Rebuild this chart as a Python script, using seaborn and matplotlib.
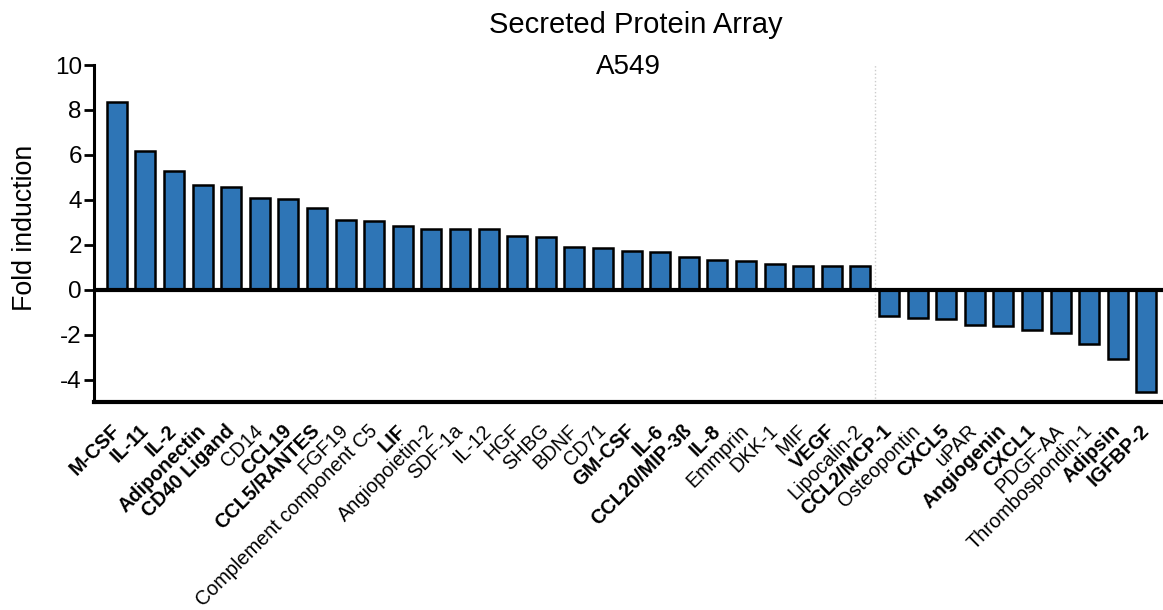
import matplotlib
matplotlib.use("Agg")
import matplotlib.pyplot as plt
import seaborn as sns
import pandas as pd

categories = ["M-CSF", "IL-11", "IL-2", "Adiponectin", "CD40 Ligand", "CD14", "CCL19",
              "CCL5/RANTES", "FGF19", "Complement component C5", "LIF", "Angiopoietin-2",
              "SDF-1a", "IL-12", "HGF", "SHBG", "BDNF", "CD71", "GM-CSF", "IL-6",
              "CCL20/MIP-3ß", "IL-8", "Emmprin", "DKK-1", "MIF", "VEGF", "Lipocalin-2",
              "CCL2/MCP-1", "Osteopontin", "CXCL5", "uPAR", "Angiogenin", "CXCL1",
              "PDGF-AA", "Thrombospondin-1", "Adipsin", "IGFBP-2"]
fold_induction = [8.35, 6.16, 5.30, 4.66, 4.58, 4.09, 4.05, 3.63, 3.08, 3.04, 2.84, 2.71,
                  2.68, 2.68, 2.38, 2.34, 1.88, 1.86, 1.74, 1.68, 1.44, 1.31, 1.29, 1.13,
                  1.07, 1.05, 1.05, -1.18, -1.25, -1.31, -1.59, -1.62, -1.80, -1.93,
                  -2.44, -3.10, -4.55]
bold_labels = ["M-CSF", "IL-11", "IL-2", "Adiponectin", "CD40 Ligand", "CCL19", "CCL5/RANTES",
               "LIF", "GM-CSF", "IL-6", "CCL20/MIP-3ß", "IL-8", "VEGF", "CCL2/MCP-1",
               "CXCL5", "Angiogenin", "CXCL1", "Adipsin", "IGFBP-2"]
y_ticks = [-4, -2, 0, 2, 4, 6, 8, 10]
title_lines = ["Secreted Protein Array", "A549"]
y_label = "Fold induction"

sns.set_style("white")
plt.rcParams["font.family"] = ["Liberation Sans", "DejaVu Sans"]
plt.rcParams["text.color"] = "black"
plt.rcParams["axes.labelcolor"] = "black"
plt.rcParams["xtick.color"] = "black"
plt.rcParams["ytick.color"] = "black"

df = pd.DataFrame({"protein": categories, "fold": fold_induction})

fig = plt.figure(figsize=(11.63, 6.10), dpi=100)
ax = fig.add_axes([94.3 / 1163, (610 - 402) / 610, 1 - 94.3 / 1163, (402 - 65) / 610])

sns.barplot(data=df, x="protein", y="fold", color="#2e75b6", edgecolor="black",
            linewidth=1.8, width=0.7, saturation=1, ax=ax, zorder=3)

ax.set_xlim(-0.79, len(categories) - 1 + 0.58)
ax.set_ylim(-5, 10)
ax.set_yticks(y_ticks)
ax.set_yticklabels([str(v) for v in y_ticks])
ax.axhline(0, color="black", lw=3, zorder=4)
ax.axvline(26.5, color="#cccccc", lw=1, ls=":", zorder=1)

sns.despine(ax=ax)
ax.spines["left"].set_linewidth(2.2)
ax.spines["bottom"].set_linewidth(3)
ax.spines["left"].set_color("black")
ax.spines["bottom"].set_color("black")

ax.tick_params(axis="y", length=7, width=2, labelsize=17.5, pad=2, color="black", left=True)
ax.tick_params(axis="x", length=0, pad=18.5)
ax.set_xticks(range(len(categories)))
ax.set_xticklabels(categories, rotation=45, ha="right", rotation_mode="anchor", va="center",
                   fontsize=14.3, color="black")
for lbl in ax.get_xticklabels():
    if lbl.get_text() in bold_labels:
        lbl.set_fontweight("bold")

ax.set_xlabel("")
ax.set_ylabel(y_label, fontsize=19.3, color="black")
ax.yaxis.set_label_coords(-0.0527, 0.516)

fig.text(636 / 1163, 1 - 33 / 610, title_lines[0], ha="center", va="baseline", fontsize=21, color="black")
fig.text(628 / 1163, 1 - 74 / 610, title_lines[1], ha="center", va="baseline", fontsize=20, color="black")

fig.savefig("out.png", dpi=100)
